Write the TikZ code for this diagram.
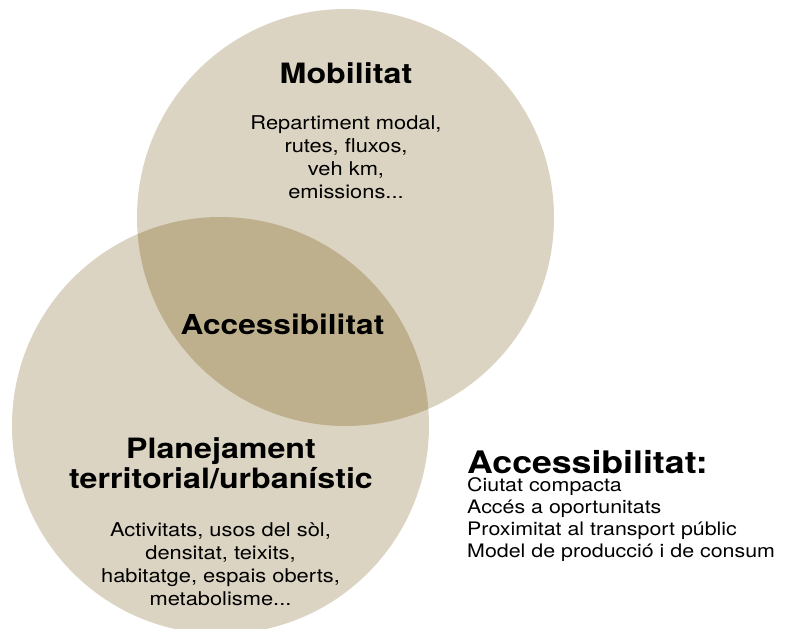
\documentclass[tikz,border=0pt]{standalone}
\usepackage{fontspec}
\setmainfont{TeX Gyre Heros}[FakeStretch=1.15]
\definecolor{venntan}{RGB}{220,212,194}
\definecolor{venndark}{RGB}{190,176,141}
\begin{document}
\begin{tikzpicture}[x=1pt,y=-1pt,
  title/.style={font=\bfseries\fontsize{28}{30}\selectfont, anchor=base, inner sep=0pt},
  body/.style={font=\fontsize{19}{22.7}\selectfont, align=center, anchor=base, inner sep=0pt},
  listhead/.style={font=\bfseries\fontsize{31}{33}\selectfont, anchor=base west, inner sep=0pt},
  listbody/.style={font=\fontsize{18.6}{21.9}\selectfont, align=left, anchor=base west, inner sep=0pt}]
\useasboundingbox (0,0) rectangle (788,629);
\fill[white] (0,0) rectangle (788,629);
% centres of the two sets
\coordinate (mob) at (345.5,217.5);
\coordinate (pla) at (220.5,425.5);
% the two discs
\fill[venntan] (mob) circle[radius=208.5pt];
\fill[venntan] (pla) circle[radius=208.5pt];
% their intersection
\begin{scope}
  \clip (mob) circle[radius=208.5pt];
  \fill[venndark] (pla) circle[radius=208.5pt];
\end{scope}
% labels of the upper set (multi-line nodes sit on their last baseline)
\node[title] (mobt) at (346,83) {Mobilitat};
\node[body] (mobb) at (346,198) {Repartiment modal,\\rutes, fluxos,\\veh km,\\emissions...};
% label of the intersection
\node[title, font=\bfseries\fontsize{27.5}{30}\selectfont] (acc) at (282.5,334) {Accessibilitat};
% labels of the lower set
\node[title, align=center, font=\bfseries\fontsize{28}{30}\selectfont] (plat) at (221,488) {Planejament\\territorial/urbanístic};
\node[body] (plab) at (220.5,605) {Activitats, usos del sòl,\\densitat, teixits,\\habitatge, espais oberts,\\metabolisme...};
% side list
\node[listhead] (lh) at (467,473) {Accessibilitat:};
\node[listbody] (lb) at (467,557.5) {Ciutat compacta\\Accés a oportunitats\\Proximitat al transport públic\\Model de producció i de consum};
\end{tikzpicture}
\end{document}
